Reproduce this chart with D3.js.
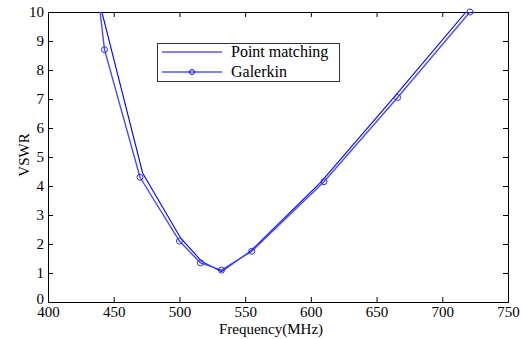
<!DOCTYPE html>
<html>
<head>
<meta charset="utf-8">
<script src="https://cdn.jsdelivr.net/npm/d3@7"></script>
<style>
  body { margin: 0; background: #fff; font-family: 'Liberation Serif', serif; }
  svg { display: block; }
</style>
</head>
<body>
<svg id="chart" width="523" height="339"></svg>
<script>
// Point matching (no markers)
const pmFreq = [441, 472, 501, 517, 532, 554, 608, 663, 718];
const pmVswr = [10, 4.45, 2.2, 1.4, 1.05, 1.75, 4.15, 7.05, 10];
// Galerkin (circle markers)
const galFreq = [439.6, 443, 470, 500, 516, 532, 555, 610, 666, 721];
const galVswr = [10, 8.7, 4.3, 2.1, 1.35, 1.1, 1.75, 4.15, 7.05, 10];
const galMarkIdx = [1, 2, 3, 4, 5, 6, 7, 8, 9];

const xTicks = [400, 450, 500, 550, 600, 650, 700, 750];
const yTicks = [0, 1, 2, 3, 4, 5, 6, 7, 8, 9, 10];

const FONT = "'Liberation Serif', serif";

const svg = d3.select('#chart').style('font-family', FONT);
const plotL = 48, plotR = 508, plotT = 12, plotB = 302;

const x = d3.scaleLinear().domain([400, 750]).range([plotL, plotR]);
const y = d3.scaleLinear().domain([0, 10]).range([plotB, plotT]);

// axes, ticks pointing inward
const gx = svg.append('g').attr('transform', `translate(0,${plotB})`)
    .call(d3.axisBottom(x).tickValues(xTicks).tickSize(-5).tickPadding(4));
const gxTop = svg.append('g').attr('transform', `translate(0,${plotT})`)
    .call(d3.axisTop(x).tickValues(xTicks).tickSize(-5).tickFormat(''));
const gy = svg.append('g').attr('transform', `translate(${plotL},0)`)
    .call(d3.axisLeft(y).tickValues(yTicks).tickSize(-5).tickPadding(4));
const gyRight = svg.append('g').attr('transform', `translate(${plotR},0)`)
    .call(d3.axisRight(y).tickValues(yTicks).tickSize(-5).tickFormat(''));

[gx, gxTop, gy, gyRight].forEach((g) => {
    g.attr('font-family', FONT).attr('font-size', 15);
    g.select('.domain').attr('stroke', '#000');
    g.selectAll('.tick line').attr('stroke', '#000');
    g.selectAll('text').attr('fill', '#000');
});
gx.selectAll('text').attr('y', 15).attr('dy', null);
// nudge the "0" label up so it sits clear of "400"
gy.selectAll('.tick').filter((d) => d === 0).select('text').attr('y', -3);

svg.append('defs').append('clipPath').attr('id', 'clip')
    .append('rect').attr('x', plotL).attr('y', plotT)
    .attr('width', plotR - plotL).attr('height', plotB - plotT);

const line = d3.line().x((d) => x(d[0])).y((d) => y(d[1]));
const pmData = pmFreq.map((f, i) => [f, pmVswr[i]]);
const galData = galFreq.map((f, i) => [f, galVswr[i]]);

const plot = svg.append('g').attr('clip-path', 'url(#clip)');
plot.append('path').datum(pmData)
    .attr('d', line).attr('fill', 'none')
    .attr('stroke', '#0000ff').attr('stroke-width', 1.1);
plot.append('path').datum(galData)
    .attr('d', line).attr('fill', 'none')
    .attr('stroke', '#4a4aff').attr('stroke-width', 1.4);

svg.append('g').selectAll('circle')
    .data(galMarkIdx.map((i) => galData[i]))
    .enter()
    .append('circle')
    .attr('cx', (d) => x(d[0]))
    .attr('cy', (d) => y(d[1]))
    .attr('r', 3)
    .attr('fill', 'none')
    .attr('stroke', '#2a2aff')
    .attr('stroke-width', 1);

// legend
const legend = svg.append('g').attr('font-family', FONT).attr('font-size', 16);
legend.append('rect')
    .attr('x', 157.5).attr('y', 43.5).attr('width', 182).attr('height', 38)
    .attr('fill', '#fff').attr('stroke', '#333').attr('stroke-width', 1);
legend.append('line').attr('x1', 162).attr('x2', 222).attr('y1', 52).attr('y2', 52)
    .attr('stroke', '#0000ff');
legend.append('line').attr('x1', 162).attr('x2', 222).attr('y1', 72).attr('y2', 72)
    .attr('stroke', '#0000ff');
legend.append('circle').attr('cx', 192).attr('cy', 72).attr('r', 2.5)
    .attr('fill', 'none').attr('stroke', '#0000ff');
legend.append('text').attr('x', 231).attr('y', 57).text('Point matching');
legend.append('text').attr('x', 231).attr('y', 77).text('Galerkin');

// axis titles
svg.append('text')
    .attr('x', 271).attr('y', 334)
    .attr('font-family', FONT).attr('font-size', 15)
    .attr('text-anchor', 'middle')
    .text('Frequency(MHz)');
svg.append('text')
    .attr('transform', 'translate(29,155) rotate(-90)')
    .attr('font-family', FONT).attr('font-size', 15)
    .attr('text-anchor', 'middle')
    .text('VSWR');
</script>
</body>
</html>
